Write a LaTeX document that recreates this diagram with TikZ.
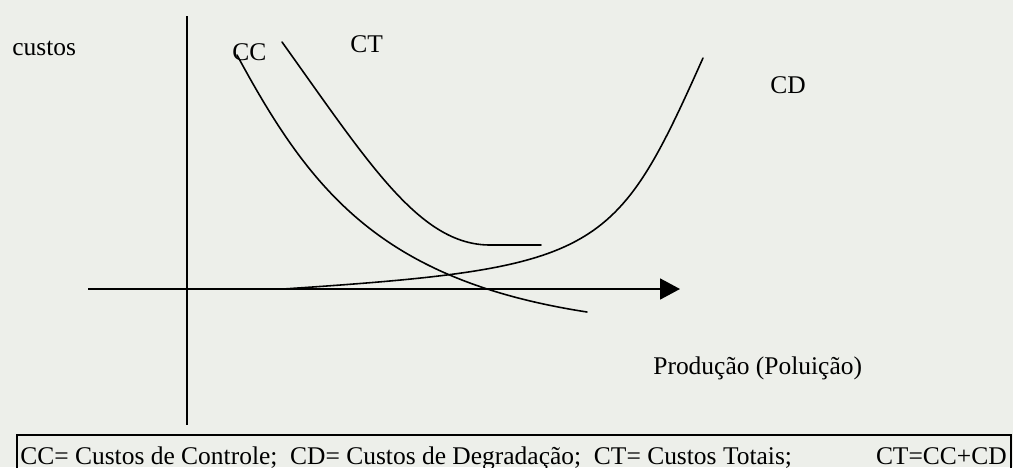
\documentclass[tikz,border=0pt]{standalone}
\usepackage{fontspec}
\setmainfont{Liberation Serif}
\usetikzlibrary{positioning, arrows.meta}
\definecolor{papel}{RGB}{237,239,234}

\begin{document}
\begin{tikzpicture}[x=0.02cm, y=-0.02cm,
    rotulo/.style={anchor=base west, inner sep=0pt, font=\fontsize{14.5}{17}\selectfont},
    curva/.style={line width=0.9pt, line cap=round}]
  \fill[papel] (0,0) rectangle (1013,467);
  \useasboundingbox (0,0) rectangle (1013,467);

  % eixos
  \coordinate (topoY) at (187,16);
  \coordinate (baseY) at (187,425);
  \coordinate (inicioX) at (88,289);
  \coordinate (fimX) at (680,289);
  \draw[line width=1pt] (topoY) -- (baseY);
  \draw[line width=1pt, -{Triangle[length=0.4cm, width=0.42cm]}] (inicioX) -- (fimX);

  % curvas CC, CT e CD
  \draw[curva] (237,55) .. controls (310,190) and (380,280) .. (587,312);
  \draw[curva] (282,42) .. controls (370,165) and (420,245) .. (490,245) -- (541,245);
  \draw[curva] (283,289) .. controls (600,268) and (615,255) .. (703,58);

  \node[rotulo] (custos) at (12,55) {custos};
  \node[rotulo] (lblCC) at (232,60) {CC};
  \node[rotulo] (lblCT) at (350,52) {CT};
  \node[rotulo] (lblCD) at (770,93) {CD};
  \node[rotulo] (producao) at (653,374) {Produção (Poluição)};

  % legenda
  \draw[line width=0.8pt] (17,470) -- (17,435) -- (1011,435) -- (1011,470);
  \node[rotulo] (legenda) at (20,464) {CC= Custos de Controle;\ \ CD= Custos de Degradação;\ \ CT= Custos Totais;};
  \node[rotulo, anchor=base east] (soma) at (1007,464) {CT=CC+CD};
\end{tikzpicture}
\end{document}
